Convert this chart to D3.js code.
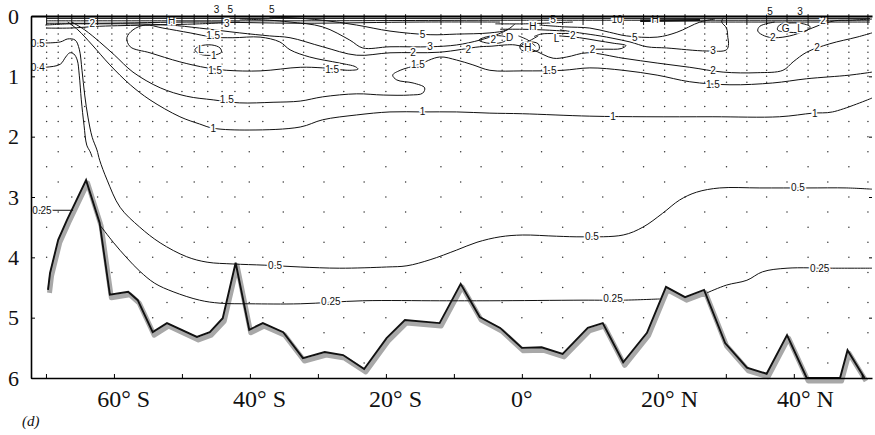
<!DOCTYPE html>
<html>
<head>
<meta charset="utf-8">
<script src="https://cdn.jsdelivr.net/npm/d3@7"></script>
<style>
body { margin: 0; background: #fff; }
svg { display: block; }
</style>
</head>
<body>
<script>
const width = 875
const height = 435

// axes
const latDomain = [-72.2, 51.5]
const depthDomain = [0, 6]
const depthTicks = [0, 1, 2, 3, 4, 5, 6]
const latTicks = [-70, -60, -50, -40, -30, -20, -10, 0, 10, 20, 30, 40, 50]
const latLabelValues = [-60, -40, -20, 0, 20, 40]
const latLabelNums = ['60°', '40°', '20°', '0°', '20°', '40°']
const latLabelHemis = [' S', ' S', ' S', '', ' N', ' N']

// stations (latitude) and sample depths (km)
const stationLat = [-69.9, -68.2, -66.2, -64.3, -62.4, -60.3, -58.1, -56.2, -54.3, -52.2, -50.0, -48.2, -46.2, -44.1, -42.2, -40.1, -38.1, -35.1, -32.1, -29.1, -26.2, -23.2, -20.0, -17.1, -11.9, -9.0, -6.0, -2.9, 0, 2.9, 6.0, 9.0, 11.9, 14.9, 17.9, 21.0, 24.0, 26.9, 30.1, 33.1, 36.0, 39.0, 42.1, 45.0, 48.1, 50.9]
const levelsA = [0.2, 0.3, 0.4, 0.5, 0.6, 0.7, 0.8, 0.9, 1.0, 1.1, 1.25, 1.5, 1.75, 2.0, 2.5, 3.0, 3.5, 4.0, 4.5, 5.0, 5.5]
const levelsB = [0.2, 0.3, 0.4, 0.5, 0.6, 0.7, 0.8, 0.9, 1.0, 1.1, 1.25, 1.5, 1.75, 2.0, 2.25, 2.75, 3.25, 3.75, 4.25, 4.75, 5.25, 5.75]

// bottom topography
const topoLat = [-69.7, -69.4, -68.2, -66.9, -64.1, -62.1, -60.6, -57.9, -56.5, -54.3, -52.2, -47.8, -45.9, -44.0, -42.1, -40.1, -38.1, -35.1, -32.2, -29.0, -26.3, -23.2, -19.9, -17.2, -12.1, -9.0, -6.2, -3.2, 0, 2.9, 6.0, 9.7, 11.9, 14.9, 18.4, 21.2, 24.0, 26.8, 29.9, 33.1, 36.0, 39.0, 41.9, 46.8, 47.9, 50.4]
const topoDepth = [4.54, 4.26, 3.71, 3.38, 2.72, 3.43, 4.62, 4.57, 4.71, 5.24, 5.09, 5.32, 5.24, 5.01, 4.09, 5.20, 5.09, 5.24, 5.67, 5.57, 5.62, 5.85, 5.34, 5.04, 5.09, 4.44, 4.99, 5.17, 5.50, 5.49, 5.60, 5.17, 5.09, 5.74, 5.25, 4.49, 4.66, 4.54, 5.42, 5.83, 5.93, 5.29, 6.0, 6.0, 5.54, 6.0]

// contours [lat, depth]
const c025a = [[-72.2, 3.22], [-66.0, 3.22]]
const c025b = [[-62.1, 3.46], [-60.1, 3.75], [-58.1, 4.01], [-56.2, 4.23], [-54.0, 4.43], [-51.3, 4.57], [-47.4, 4.71], [-44.4, 4.76], [-40.0, 4.77], [-32.6, 4.77], [-23.4, 4.72], [-12.1, 4.72], [-4.7, 4.72], [9.0, 4.71], [14.9, 4.71], [20.3, 4.69]]
const c025c = [[27.2, 4.59], [30.1, 4.46], [33.1, 4.38], [35.4, 4.24], [39.0, 4.18], [45.7, 4.18], [51.5, 4.18]]
const c04 = [[-72.2, 0.85], [-70.1, 0.85], [-67.9, 0.80], [-67.1, 0.68], [-66.5, 0.61], [-65.9, 0.63], [-65.4, 0.73], [-65.1, 0.98], [-64.8, 1.39], [-64.4, 1.81], [-64.0, 2.14], [-63.5, 2.25], [-63.2, 2.34]]
const c05 = [[-72.2, 0.45], [-67.9, 0.43], [-66.8, 0.38], [-65.7, 0.40], [-65.1, 0.55], [-64.7, 0.90], [-64.3, 1.31], [-63.8, 1.69], [-63.2, 2.01], [-62.5, 2.22], [-62.1, 2.39], [-61.0, 2.72], [-59.1, 3.17], [-56.2, 3.50], [-53.2, 3.76], [-49.3, 3.99], [-46.3, 4.08], [-42.5, 4.11], [-37.8, 4.13], [-32.6, 4.16], [-26.8, 4.18], [-19.9, 4.16], [-16.9, 4.14], [-13.5, 4.04], [-9.6, 3.88], [-6.6, 3.75], [-3.2, 3.66], [0.1, 3.63], [5.1, 3.65], [9.0, 3.66], [14.9, 3.63], [17.8, 3.50], [20.7, 3.27], [23.2, 3.05], [25.7, 2.92], [29.1, 2.85], [35.0, 2.85], [41.9, 2.85], [47.8, 2.85], [51.5, 2.87]]
const c1 = [[-66.8, 0.10], [-65.3, 0.23], [-63.2, 0.48], [-60.6, 0.81], [-57.6, 1.14], [-54.7, 1.39], [-50.3, 1.67], [-47.4, 1.79], [-45.4, 1.86], [-40.0, 1.89], [-32.6, 1.84], [-29.3, 1.72], [-24.3, 1.64], [-19.4, 1.59], [-14.6, 1.59], [-9.6, 1.59], [-4.7, 1.61], [0.1, 1.62], [10.0, 1.66], [18.4, 1.67], [28.1, 1.67], [37.9, 1.67], [42.8, 1.61], [45.7, 1.59], [51.5, 1.36]]
const c1Loop = [[-48.1, 0.56], [-47.4, 0.50], [-45.6, 0.48], [-44.4, 0.53], [-44.2, 0.60], [-45.4, 0.65], [-47.4, 0.63]]
const c15 = [[-66.2, 0.10], [-64.3, 0.23], [-62.1, 0.43], [-59.9, 0.65], [-57.2, 0.93], [-53.2, 1.19], [-49.3, 1.33], [-45.4, 1.39], [-41.5, 1.44], [-36.6, 1.43], [-32.6, 1.41], [-29.3, 1.34], [-24.3, 1.29], [-20.4, 1.31], [-16.5, 1.31], [-14.6, 1.28], [-14.3, 1.19], [-16.0, 1.11], [-18.4, 1.06], [-19.0, 0.98], [-17.9, 0.90], [-15.3, 0.81], [-12.1, 0.68], [-9.6, 0.73], [-7.2, 0.81], [-4.7, 0.90], [0.1, 0.91], [6.0, 0.90], [10.0, 0.86], [14.9, 0.90], [19.9, 0.98], [24.7, 1.09], [30.6, 1.14], [36.9, 1.11], [41.9, 1.04], [48.2, 0.98], [51.5, 0.93]]
const c15Tongue = [[-55.4, 0.15], [-57.2, 0.23], [-58.1, 0.36], [-57.6, 0.51], [-54.7, 0.61], [-50.3, 0.76], [-46.3, 0.86], [-43.4, 0.90], [-38.5, 0.91], [-32.6, 0.85], [-29.3, 0.86], [-25.3, 0.90], [-24.1, 0.88], [-24.5, 0.84], [-26.8, 0.78], [-31.2, 0.68], [-34.1, 0.56], [-35.6, 0.43], [-38.5, 0.35], [-42.5, 0.36], [-45.4, 0.35], [-48.8, 0.28], [-52.8, 0.20]]
const c2 = [[-70.1, 0.15], [-66.5, 0.13], [-63.2, 0.13], [-57.6, 0.13], [-51.8, 0.15], [-47.4, 0.20], [-41.5, 0.28], [-37.1, 0.33], [-34.1, 0.36], [-29.3, 0.51], [-24.3, 0.65], [-19.4, 0.61], [-12.1, 0.60], [-6.2, 0.51], [-4.4, 0.50], [-2.5, 0.48], [-1.0, 0.48], [1.6, 0.56], [4.6, 0.70], [6.6, 0.68], [9.6, 0.61], [14.9, 0.70], [19.9, 0.78], [24.7, 0.85], [29.6, 0.93], [34.6, 0.94], [38.4, 0.90], [39.9, 0.76], [41.9, 0.60], [45.3, 0.46], [49.3, 0.35], [51.5, 0.28]]
const c2Loop = [[-6.3, 0.40], [-5.0, 0.34], [-3.0, 0.33], [-2.0, 0.37], [-3.0, 0.44], [-5.0, 0.45]]
const c2Tongue = [[5.5, 0.33], [8.5, 0.36], [11.2, 0.41], [13.4, 0.45], [15.3, 0.49], [14.6, 0.54], [12.2, 0.55], [10.4, 0.55]]
const c2Right = [[37.2, 0.10], [35.0, 0.17], [34.7, 0.25], [35.7, 0.33], [37.2, 0.36], [39.4, 0.33], [41.6, 0.25], [43.8, 0.15], [46.0, 0.08], [48.2, 0.07], [51.5, 0.05]]
const glLoop = [[37.9, 0.15], [40.9, 0.12], [42.4, 0.18], [41.6, 0.26], [39.4, 0.27], [37.6, 0.23]]
const c3 = [[-41.5, 0.05], [-37.1, 0.07], [-34.1, 0.10], [-29.3, 0.18], [-25.3, 0.40], [-23.4, 0.53], [-19.4, 0.51], [-13.5, 0.51], [-9.6, 0.48], [-6.2, 0.40], [-3.7, 0.31], [-2.1, 0.23]]
const c3Right = [[5.6, 0.23], [8.5, 0.28], [11.5, 0.33], [13.4, 0.37], [15.9, 0.43], [18.4, 0.51], [21.3, 0.53], [27.2, 0.58], [30.1, 0.56], [30.4, 0.46], [30.3, 0.36], [30.1, 0.20], [29.4, 0.10], [29.6, 0.03]]
const c5 = [[-37.1, 0.03], [-34.1, 0.03], [-29.3, 0.07], [-24.3, 0.15], [-19.4, 0.25], [-13.5, 0.31], [-9.6, 0.30], [-4.7, 0.28], [-2.2, 0.23], [-1.0, 0.13]]
const c5Right = [[2.6, 0.15], [6.3, 0.18], [10.0, 0.20], [12.9, 0.27], [15.4, 0.33], [19.9, 0.35], [22.8, 0.27], [26.2, 0.10], [28.4, 0.05]]
const xCrossA = [[-0.5, 0.33], [0.9, 0.40], [2.0, 0.50]]
const xCrossB = [[2.4, 0.33], [1.0, 0.42], [-0.3, 0.50]]
const hLoop = [[-0.2, 0.47], [0.8, 0.43], [2.4, 0.46], [2.5, 0.56], [0.9, 0.59], [-0.2, 0.55]]
const lBracket = [[1.8, 0.34], [2.8, 0.30], [5.0, 0.29], [8.0, 0.29]]
const centerTop1 = [[-3.9, 0.13], [0.5, 0.13], [3.1, 0.12], [7.5, 0.10]]
const centerTop2 = [[-3.2, 0.22], [0.1, 0.22], [3.1, 0.23], [6.3, 0.25]]
const surf1 = [[-69.9, 0.04], [51.2, 0.04]]
const surf2 = [[-69.9, 0.08], [-53.0, 0.08], [-32.6, 0.08], [-3.2, 0.07], [11.5, 0.07], [51.2, 0.07]]
const surf3 = [[-69.9, 0.12], [-62.1, 0.12], [-47.4, 0.10], [-32.6, 0.12], [-15.0, 0.10], [-3.2, 0.10]]
const surf4 = [[-69.9, 0.20], [-66.5, 0.20], [-62.1, 0.17], [-54.7, 0.15], [-47.4, 0.13], [-41.5, 0.10]]
const surf5 = [[26.2, 0.10], [40.0, 0.10], [51.2, 0.10]]
const topRightBar = [[17.4, 0.08], [26.2, 0.07]]

// labels [text, lat, depth]
const contourLabels = [
    ['0.5', -71.2, 0.45], ['0.4', -71.2, 0.85], ['0.25', -70.6, 3.22],
    ['1.5', -45.4, 0.33], ['1.5', -45.1, 0.90], ['1.5', -43.4, 1.39], ['1', -45.4, 1.86],
    ['L', -47.2, 0.56], ['1', -45.3, 0.66], ['2', -63.2, 0.13], ['H', -51.5, 0.07],
    ['3', -44.9, -0.10], ['5', -42.9, -0.10], ['5', -36.8, -0.10], ['3', -43.4, 0.12],
    ['1.5', -27.9, 0.88], ['5', -14.6, 0.30], ['3', -13.5, 0.51], ['2', -16.0, 0.60], ['2', -7.9, 0.56],
    ['1.5', -15.3, 0.81], ['1', -14.6, 1.59],
    ['2', -4.2, 0.39], ['D', -1.8, 0.36], ['H', 1.6, 0.18], ['H', 0.9, 0.52], ['L', 5.1, 0.37], ['2', 7.5, 0.33], ['5', 4.6, 0.05],
    ['1.5', 4.1, 0.90], ['10', 14.0, 0.05], ['H', 19.6, 0.05], ['5', 16.6, 0.35], ['2', 10.4, 0.55],
    ['3', 28.1, 0.58], ['2', 28.1, 0.90], ['1.5', 28.1, 1.14], ['1', 13.4, 1.67],
    ['5', 36.5, -0.08], ['3', 40.9, -0.08], ['G', 38.8, 0.20], ['L', 40.9, 0.20], ['2', 36.9, 0.36], ['2', 44.3, 0.07],
    ['2', 43.4, 0.53], ['1', 43.1, 1.61],
    ['0.5', -36.3, 4.13], ['0.5', 10.3, 3.66], ['0.5', 40.6, 2.85],
    ['0.25', -28.1, 4.74], ['0.25', 13.4, 4.69], ['0.25', 43.8, 4.18]
]

const openLines = [c025a, c025b, c025c, c04, c05, c1, c15, c2, c2Tongue, c2Right, c3, c3Right, c5, c5Right,
    xCrossA, xCrossB, lBracket, centerTop1, centerTop2, surf1, surf2, surf3, surf4, surf5]
const closedLines = [c1Loop, c15Tongue, c2Loop, glLoop, hLoop]

const x = d3.scaleLinear().domain(latDomain).range([31, 872])
const y = d3.scaleLinear().domain(depthDomain).range([16, 378])

function bottomAt(lat) {
    if (lat <= topoLat[0]) return topoDepth[0]
    for (let i = 1; i < topoLat.length; i++) {
        if (lat <= topoLat[i]) {
            const t = (lat - topoLat[i - 1]) / (topoLat[i] - topoLat[i - 1])
            return topoDepth[i - 1] + t * (topoDepth[i] - topoDepth[i - 1])
        }
    }
    return topoDepth[topoDepth.length - 1]
}

const svg = d3.select('body').append('svg')
    .attr('width', width)
    .attr('height', height)

svg.append('rect').attr('width', width).attr('height', height).attr('fill', '#fff')

// station sample dots
const dots = []
stationLat.forEach((lat, i) => {
    const levels = i % 2 ? levelsB : levelsA
    const bottom = bottomAt(lat)
    levels.forEach(d => {
        if (d < bottom - 0.08) dots.push([lat, d])
    })
})
svg.append('g').selectAll('circle')
    .data(dots)
    .join('circle')
    .attr('cx', d => x(d[0]))
    .attr('cy', d => y(d[1]))
    .attr('r', 0.75)
    .attr('fill', '#333')

// station ticks at the surface
svg.append('g').selectAll('line')
    .data(stationLat)
    .join('line')
    .attr('x1', d => x(d)).attr('x2', d => x(d))
    .attr('y1', y(-0.03)).attr('y2', y(0.15))
    .attr('stroke', '#111')
    .attr('stroke-width', 1)

// topography
const topo = d3.zip(topoLat, topoDepth)
const topoLine = d3.line().x(d => x(d[0])).y(d => y(d[1]))
svg.append('path')
    .attr('d', topoLine(topo))
    .attr('fill', 'none')
    .attr('stroke', '#a8a8a8')
    .attr('stroke-width', 5)
    .attr('stroke-linejoin', 'round')
    .attr('transform', 'translate(1.5,3)')
svg.append('path')
    .attr('d', topoLine(topo))
    .attr('fill', 'none')
    .attr('stroke', '#111')
    .attr('stroke-width', 1.9)
    .attr('stroke-linejoin', 'miter')

// contours
const line = d3.line().x(d => x(d[0])).y(d => y(d[1])).curve(d3.curveCatmullRom.alpha(0.5))
const loop = d3.line().x(d => x(d[0])).y(d => y(d[1])).curve(d3.curveCatmullRomClosed.alpha(0.5))
const cg = svg.append('g').attr('fill', 'none').attr('stroke', '#111').attr('stroke-width', 1)
openLines.forEach(pts => cg.append('path').attr('d', line(pts)))
closedLines.forEach(pts => cg.append('path').attr('d', loop(pts)))
cg.append('path').attr('d', line(topRightBar)).attr('stroke-width', 2.5)

svg.append('g').selectAll('text')
    .data(contourLabels)
    .join('text')
    .attr('x', d => x(d[1]))
    .attr('y', d => y(d[2]))
    .attr('dy', '0.35em')
    .attr('text-anchor', 'middle')
    .attr('font-family', 'Liberation Sans, Arial, sans-serif')
    .attr('font-size', 10)
    .attr('fill', '#111')
    .attr('stroke', '#fff')
    .attr('stroke-width', 3)
    .attr('paint-order', 'stroke')
    .text(d => d[0])

// axes
const gy = svg.append('g')
    .attr('transform', `translate(${x.range()[0]},0)`)
    .call(d3.axisLeft(y).tickValues(depthTicks).tickSize(-4).tickSizeOuter(0).tickPadding(12).tickFormat(d3.format('d')))
gy.selectAll('text').attr('font-family', 'Liberation Serif, serif').attr('font-size', 22).attr('fill', '#111')
gy.select('.domain').attr('stroke-width', 1.6)

const gr = svg.append('g')
    .attr('transform', `translate(${x.range()[1]},0)`)
    .call(d3.axisRight(y).tickValues(depthTicks).tickSize(-3).tickFormat(''))
gr.select('.domain').remove()

const gb = svg.append('g')
    .attr('transform', `translate(0,${y.range()[1]})`)
    .call(d3.axisBottom(x).tickValues(latTicks).tickSize(-4).tickSizeOuter(0).tickFormat(''))
gb.select('.domain').attr('stroke-width', 1.6)

const gt = svg.append('g')
    .attr('transform', `translate(0,${y.range()[0]})`)
    .call(d3.axisTop(x).tickValues([]).tickSizeOuter(0))
gt.select('.domain').attr('stroke-width', 1.8)

const xl = svg.append('g')
    .attr('font-family', 'Liberation Serif, serif')
    .attr('font-size', 24)
    .attr('fill', '#111')
    .style('white-space', 'pre')
latLabelValues.forEach((v, i) => {
    const t = xl.append('text').attr('y', 407)
    const num = t.append('tspan').text(latLabelNums[i])
    t.append('tspan').text(latLabelHemis[i])
    const w = num.node().getComputedTextLength()
    t.attr('x', x(v) - w / 2)
})

svg.append('text')
    .attr('x', 22)
    .attr('y', 426)
    .attr('font-family', 'Liberation Serif, serif')
    .attr('font-style', 'italic')
    .attr('font-size', 15)
    .attr('fill', '#111')
    .text('(d)')
</script>
</body>
</html>
